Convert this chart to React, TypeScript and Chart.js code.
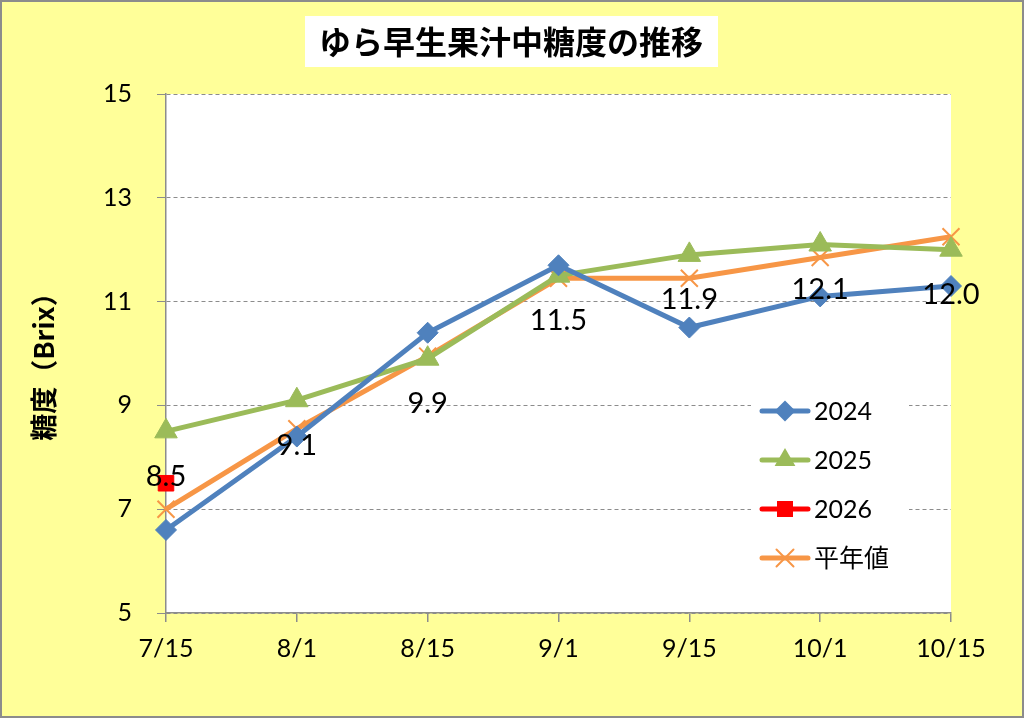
import React, { useEffect, useRef } from 'react';
import { Chart, registerables } from 'chart.js';

Chart.register(...registerables);

const categories = ['7/15', '8/1', '8/15', '9/1', '9/15', '10/1', '10/15'];
const series2024 = [6.6, 8.4, 10.4, 11.7, 10.5, 11.1, 11.3];
const series2025 = [8.5, 9.1, 9.9, 11.5, 11.9, 12.1, 12.0];
const series2026 = [7.5, null, null, null, null, null, null];
const seriesNormal = [7.0, 8.55, 9.95, 11.45, 11.45, 11.85, 12.25];
const yMin = 5;
const yMax = 15;
const yStep = 2;
const chartTitle = 'ゆら早生果汁中糖度の推移';
const yAxisTitle = '糖度（Brix）';
const seriesNames = ['2024', '2025', '2026', '平年値'];

const FONT = '"Lato", "Noto Sans CJK JP", sans-serif';
const CJK = '"Noto Sans CJK JP", sans-serif';
const COLORS = ['#4F81BD', '#9BBB59', '#FF0000', '#F79646'];
const BG = '#FFFF99';
const GRID = '#8C8C8C';

function drawMarker(ctx: CanvasRenderingContext2D, kind: string, x: number, y: number, color: string) {
  ctx.save();
  ctx.fillStyle = color;
  ctx.strokeStyle = color;
  ctx.beginPath();
  if (kind === 'diamond') {
    const r = 10.5;
    ctx.moveTo(x, y - r);
    ctx.lineTo(x + r, y);
    ctx.lineTo(x, y + r);
    ctx.lineTo(x - r, y);
    ctx.closePath();
    ctx.fill();
  } else if (kind === 'triangle') {
    const r = 12;
    ctx.moveTo(x, y - r);
    ctx.lineTo(x + r * 0.866, y + r * 0.5);
    ctx.lineTo(x - r * 0.866, y + r * 0.5);
    ctx.closePath();
    ctx.fill();
  } else if (kind === 'square') {
    const s = 8;
    ctx.fillRect(x - s, y - s, 2 * s, 2 * s);
  } else if (kind === 'x') {
    const s = 8.5;
    ctx.lineWidth = 2;
    ctx.moveTo(x - s, y - s);
    ctx.lineTo(x + s, y + s);
    ctx.moveTo(x + s, y - s);
    ctx.lineTo(x - s, y + s);
    ctx.stroke();
  }
  ctx.restore();
}

const decorPlugin = {
  id: 'decor',
  beforeDraw(chart: any) {
    const { ctx, chartArea, width, height } = chart;
    ctx.save();
    ctx.fillStyle = BG;
    ctx.fillRect(0, 0, width, height);
    ctx.fillStyle = '#FFFFFF';
    ctx.fillRect(chartArea.left, chartArea.top, chartArea.right - chartArea.left, chartArea.bottom - chartArea.top);
    // title box
    ctx.fillStyle = '#FFFFFF';
    ctx.fillRect(305, 16, 413, 51);
    ctx.fillStyle = '#000000';
    ctx.font = 'bold 32px ' + CJK;
    ctx.textAlign = 'center';
    ctx.textBaseline = 'middle';
    ctx.fillText(chartTitle, 511, 42);
    // y axis title
    ctx.translate(44, 360);
    ctx.rotate(-Math.PI / 2);
    ctx.font = 'bold 27px ' + CJK;
    ctx.fillText(yAxisTitle, 0, 0);
    ctx.restore();
  },
  afterDraw(chart: any) {
    const { ctx, width, height } = chart;
    // data labels for 2025
    const meta = chart.getDatasetMeta(1);
    ctx.save();
    ctx.fillStyle = '#000000';
    ctx.font = '29px ' + FONT;
    ctx.textAlign = 'center';
    ctx.textBaseline = 'middle';
    meta.data.forEach((pt: any, i: number) => {
      const v = series2025[i];
      if (v == null) return;
      ctx.fillText(v.toFixed(1), pt.x, pt.y + 45);
    });
    // legend
    ctx.fillStyle = '#FFFFFF';
    ctx.fillRect(751, 386, 158, 196);
    const rows = [411, 460, 509, 558];
    const kinds = ['diamond', 'triangle', 'square', 'x'];
    rows.forEach((ry, i) => {
      ctx.strokeStyle = COLORS[i];
      ctx.lineWidth = 5;
      ctx.lineCap = 'round';
      ctx.beginPath();
      ctx.moveTo(762, ry);
      ctx.lineTo(808, ry);
      ctx.stroke();
      drawMarker(ctx, kinds[i], 785, ry, COLORS[i]);
      ctx.fillStyle = '#000000';
      ctx.font = '25px ' + FONT;
      ctx.textAlign = 'left';
      ctx.textBaseline = 'middle';
      ctx.fillText(seriesNames[i], 814, ry + 1);
    });
    // outer border
    ctx.strokeStyle = '#8C8C8C';
    ctx.lineWidth = 2;
    ctx.strokeRect(1, 1, width - 2, height - 2);
    ctx.restore();
  },
};

export default function App() {
  const ref = useRef<HTMLCanvasElement | null>(null);
  useEffect(() => {
    if (!ref.current) return;
    const chart = new Chart(ref.current, {
      type: 'line',
      data: {
        labels: categories,
        datasets: [
          {
            label: seriesNames[0],
            data: series2024,
            borderColor: COLORS[0],
            backgroundColor: COLORS[0],
            borderWidth: 5,
            pointStyle: 'rectRot',
            pointRadius: 10.5,
            pointBorderWidth: 1,
            tension: 0,
            clip: false,
          },
          {
            label: seriesNames[1],
            data: series2025,
            borderColor: COLORS[1],
            backgroundColor: COLORS[1],
            borderWidth: 5,
            pointStyle: 'triangle',
            pointRadius: 13,
            pointBorderWidth: 1,
            tension: 0,
            clip: false,
          },
          {
            label: seriesNames[2],
            data: series2026 as any,
            borderColor: COLORS[2],
            backgroundColor: COLORS[2],
            borderWidth: 5,
            pointStyle: 'rect',
            pointRadius: 11,
            pointBorderWidth: 1,
            tension: 0,
            clip: false,
          },
          {
            label: seriesNames[3],
            data: seriesNormal,
            borderColor: COLORS[3],
            backgroundColor: COLORS[3],
            borderWidth: 5,
            pointStyle: 'crossRot',
            pointRadius: 12,
            pointBorderWidth: 2,
            tension: 0,
            clip: false,
          },
        ],
      },
      options: {
        responsive: false,
        animation: false,
        devicePixelRatio: 1,
        layout: { padding: { left: 0, right: 73, top: 94, bottom: 0 } },
        plugins: {
          legend: { display: false },
          title: { display: false },
          tooltip: { enabled: false },
        },
        scales: {
          x: {
            type: 'category',
            offset: false,
            afterFit: (s: any) => {
              s.height = 105;
            },
            grid: {
              display: true,
              drawOnChartArea: false,
              drawTicks: true,
              tickLength: 9,
              color: GRID,
              lineWidth: 1.5,
            },
            border: { display: true, color: GRID, width: 1.5 },
            ticks: {
              color: '#000000',
              font: { family: FONT, size: 25 },
              padding: 12,
              maxRotation: 0,
              autoSkip: false,
            },
          },
          y: {
            min: yMin,
            max: yMax,
            afterFit: (s: any) => {
              s.width = 166;
            },
            grid: {
              color: GRID,
              lineWidth: 1,
              drawTicks: true,
              tickLength: 9,
              tickBorderDash: [],
              tickColor: GRID,
            },
            border: { display: true, color: GRID, width: 1.5, dash: [4, 3] },
            ticks: {
              stepSize: yStep,
              color: '#000000',
              font: { family: FONT, size: 25 },
              padding: 25,
            },
          },
        },
      },
      plugins: [decorPlugin],
    } as any);
    return () => chart.destroy();
  }, []);
  return (
    <div style={{ position: 'fixed', left: 0, top: 0, width: 1024, height: 718 }}>
      <canvas ref={ref} width={1024} height={718} style={{ width: 1024, height: 718, display: 'block' }} />
    </div>
  );
}
